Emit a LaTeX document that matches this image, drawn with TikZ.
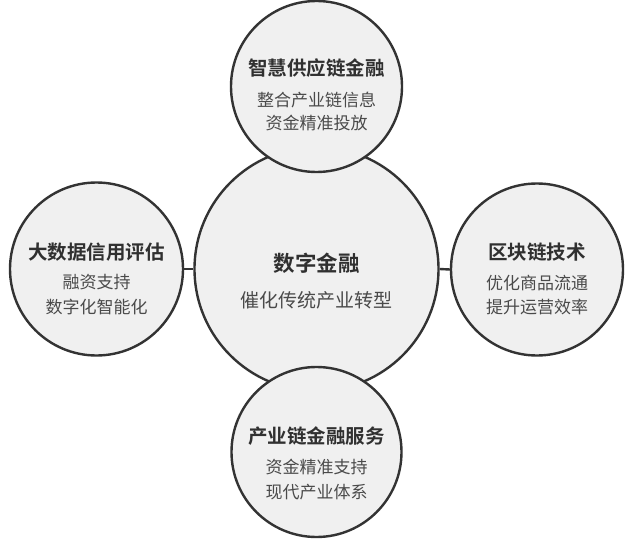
\documentclass[tikz,border=0pt]{standalone}
\usepackage{fontspec}
\newfontfamily\cjk{Noto Sans CJK SC}
\newfontfamily\cjkb{Noto Sans CJK SC Bold}
\definecolor{fillc}{HTML}{F0F0F0}
\definecolor{linec}{HTML}{333333}
\definecolor{titc}{HTML}{303030}
\definecolor{subc}{HTML}{4A4A4A}
\begin{document}
\begin{tikzpicture}[x=1pt,y=-1pt,
  ball/.style={circle, draw=linec, fill=fillc, line width=2.4pt, inner sep=0pt},
  conn/.style={draw=linec, line width=2.4pt},
  ttl/.style={font=\cjkb\fontsize{19.5}{22}\selectfont, text=titc, inner sep=0pt},
  sub/.style={font=\cjk\fontsize{17}{20}\selectfont, text=subc, inner sep=0pt},
  cttl/.style={font=\cjkb\fontsize{21.5}{24}\selectfont, text=titc, inner sep=0pt},
  csub/.style={font=\cjk\fontsize{19}{22}\selectfont, text=subc, inner sep=0pt}]
\useasboundingbox[fill=white] (0,0) rectangle (627,543);
\node[ball, minimum size=244pt] (c) at (316.5,269) {};
\node[ball, minimum size=171pt] (t) at (316.5,86.5) {};
\node[ball, minimum size=170pt] (b) at (316.5,452) {};
\node[ball, minimum size=173pt] (l) at (96.5,269) {};
\node[ball, minimum size=172pt] (r) at (537,269.5) {};
\draw[conn] (l.east) -- (c.west);
\draw[conn] (r.west) -- (c.east);
% center
\node[cttl] (ct) at (316.5,263) {数字金融};
\node[csub] (cs) at (316.5,300) {催化传统产业转型};
% top
\node[ttl] (tt) at (316.5,68) {智慧供应链金融};
\node[sub] (ts1) at (316.5,100) {整合产业链信息};
\node[sub] (ts2) at (316.5,123) {资金精准投放};
% left
\node[ttl] (lt) at (96.5,252) {大数据信用评估};
\node[sub] (ls1) at (96.5,282) {融资支持};
\node[sub] (ls2) at (96.5,307) {数字化智能化};
% right
\node[ttl] (rt) at (537,252) {区块链技术};
\node[sub] (rs1) at (537,283) {优化商品流通};
\node[sub] (rs2) at (537,307) {提升运营效率};
% bottom
\node[ttl] (bt) at (316.5,436) {产业链金融服务};
\node[sub] (bs1) at (316.5,467) {资金精准支持};
\node[sub] (bs2) at (316.5,492) {现代产业体系};
\end{tikzpicture}
\end{document}
